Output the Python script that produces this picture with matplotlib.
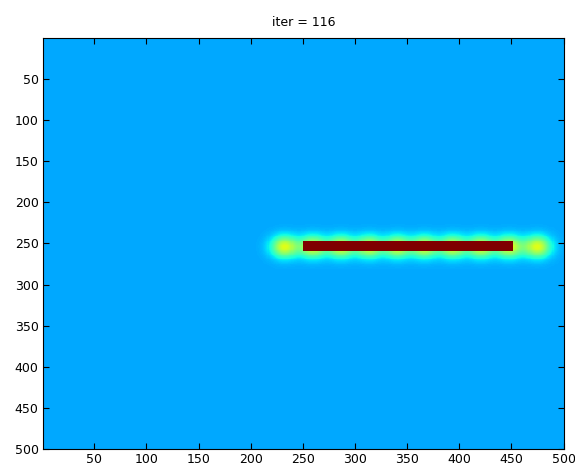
import numpy as np
import matplotlib
matplotlib.use('Agg')
import matplotlib.pyplot as plt

# grid size and field levels (as colormap fractions of jet)
n = 500
nivel_fondo = 0.29
nivel_pico = 0.62
nivel_barra = 1.0

# bar (1-based pixel indices)
barra_x = [250, 450]
barra_y = [249, 260]

# glowing blobs along the bar
blobs_x = [232, 259, 286, 313, 340, 366, 393, 420, 447, 474]
blobs_y = [255, 255, 255, 255, 255, 255, 255, 255, 255, 255]
sigma = 9.0

ticks = [50, 100, 150, 200, 250, 300, 350, 400, 450, 500]
titulo = 'iter = 116'


def construir_campo():
    xx, yy = np.meshgrid(np.arange(1, n + 1), np.arange(1, n + 1))
    campo = np.zeros((n, n))
    for bx, by in zip(blobs_x, blobs_y):
        campo += np.exp(-((xx - bx) ** 2 + (yy - by) ** 2) / (2 * sigma ** 2))
    campo = nivel_fondo + (nivel_pico - nivel_fondo) * np.clip(campo, 0, 1)
    dentro = (xx >= barra_x[0]) & (xx <= barra_x[1]) & (yy >= barra_y[0]) & (yy <= barra_y[1])
    campo[dentro] = nivel_barra
    return campo


campo = construir_campo()

fig = plt.figure(figsize=(5.75, 4.7), dpi=100)
ax = fig.add_axes([0.0743, 0.044, 0.9067, 0.8745])
ax.imshow(campo, cmap='jet', vmin=0, vmax=1, interpolation='nearest',
          extent=(0.5, n + 0.5, n + 0.5, 0.5), aspect='auto')

ax.set_xticks(ticks)
ax.set_yticks(ticks)
ax.tick_params(direction='in', length=4, width=0.8, top=True, right=True,
               labelsize=9, colors='black', pad=3)
for s in ax.spines.values():
    s.set_linewidth(0.8)
ax.set_title(titulo, fontsize=9, pad=9)

fig.savefig('out.png', dpi=100)
